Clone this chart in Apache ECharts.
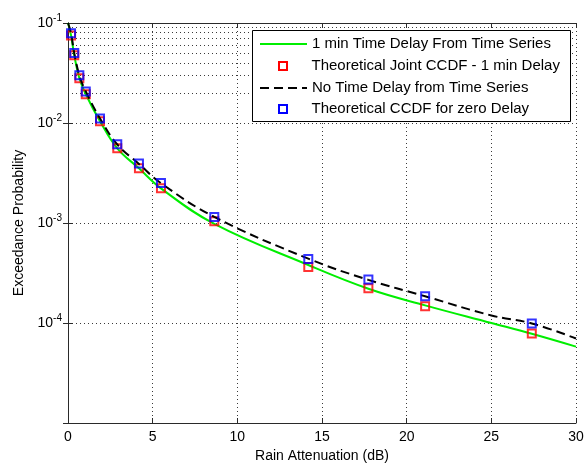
<!DOCTYPE html>
<html>
<head>
<meta charset="utf-8">
<script src="https://cdn.jsdelivr.net/npm/echarts@6/dist/echarts.min.js"></script>
<style>html,body{margin:0;padding:0;background:#fff;}#c{width:584px;height:464px;}</style>
</head>
<body>
<div id="c"></div>
<script>
// ---- data ----
const seriesNames = [
  '1 min Time Delay From Time Series',
  'Theoretical Joint CCDF - 1 min Delay',
  'No Time Delay from Time Series',
  'Theoretical CCDF for zero Delay'
];
const markerX = [0.18, 0.37, 0.67, 1.05, 1.89, 2.91, 4.19, 5.49, 8.64, 14.19, 17.74, 21.09, 27.39];
const redY    = [0.075, 0.0475, 0.028, 0.0194, 0.0104, 0.00558, 0.00352, 0.00222, 0.00104, 3.63e-4, 2.22e-4, 1.47e-4, 7.83e-5];
const blueY   = [0.079, 0.050, 0.030, 0.0207, 0.0111, 0.00612, 0.00393, 0.00251, 0.00115, 4.37e-4, 2.72e-4, 1.85e-4, 9.86e-5];
const lineX   = [0, 0.18, 0.37, 0.67, 1.05, 1.89, 2.91, 4.19, 5.49, 8.64, 14.19, 17.74, 21.09, 25, 27.39, 30];
const greenY  = [0.1, 0.0753, 0.0475, 0.028, 0.0194, 0.0104, 0.00558, 0.00352, 0.00222, 9.8e-4, 3.8e-4, 2.2e-4, 1.5e-4, 1.0e-4, 7.8e-5, 5.8e-5];
const blackY  = [0.1, 0.079, 0.050, 0.030, 0.0207, 0.0111, 0.0061, 0.0039, 0.0025, 0.00115, 4.4e-4, 2.7e-4, 1.85e-4, 1.19e-4, 9.9e-5, 7.0e-5];
const xTicks = [0, 5, 10, 15, 20, 25, 30];
const decadeExps = [-5, -4, -3, -2, -1];
const minorMult = [2, 3, 4, 5, 6, 7, 8, 9];

const pairs = (xs, ys) => xs.map((x, i) => [x, ys[i]]);
const minorVals = [];
decadeExps.slice(0, -1).forEach(e => minorMult.forEach(m => minorVals.push(m * Math.pow(10, e))));

const FONT = 'Liberation Sans, Arial, sans-serif';
const dotted = { type: [1, 3], color: '#3a3a3a', width: 1 };
const axisCol = '#2a2a2a';
const sq = 'path://M0,0L10,0L10,10L0,10Z';

function legendRow(name, top, extra) {
  return Object.assign({
    left: 259, top: top, padding: 0, itemWidth: 47, itemHeight: 14, z: 20,
    selectedMode: false,
    itemStyle: { opacity: 0 },
    textStyle: { fontSize: 15, color: '#000', fontFamily: FONT, lineHeight: 16 },
    data: [name]
  }, extra || {});
}
function squareRow(name, top, col) {
  return legendRow(name, top, {
    left: 278, itemHeight: 8,
    itemStyle: {},
    data: [{ name: name, icon: sq, itemStyle: { color: 'rgba(0,0,0,0)', borderColor: col, borderWidth: 2, opacity: 1 } }]
  });
}

const chart = echarts.init(document.getElementById('c'), null, { renderer: 'canvas' });
chart.setOption({
  animation: false,
  backgroundColor: '#fff',
  grid: { left: 68, right: 8, top: 23, bottom: 41, show: false, containLabel: false, outerBoundsMode: 'none' },
  xAxis: [{
    type: 'value', min: 0, max: 30, interval: 5,
    name: 'Rain Attenuation (dB)', nameLocation: 'middle', nameGap: 26,
    nameTextStyle: { fontSize: 14, color: '#000', fontFamily: FONT },
    axisLine: { lineStyle: { color: axisCol, width: 1 } },
    axisTick: { inside: true, length: 5, lineStyle: { color: axisCol } },
    axisLabel: { fontSize: 14, color: '#000', fontFamily: FONT, margin: 7 },
    splitLine: { show: true, lineStyle: dotted }
  }, {
    type: 'value', min: 0, max: 30, interval: 5, position: 'top',
    axisLine: { show: true, onZero: false, lineStyle: { color: axisCol, width: 1 } },
    axisTick: { inside: true, length: 5, lineStyle: { color: axisCol } },
    axisLabel: { show: false }, splitLine: { show: false }
  }],
  yAxis: [{
    type: 'log', logBase: 10, min: 1e-5, max: 0.1,
    name: 'Exceedance Probability', nameLocation: 'middle', nameGap: 42,
    nameTextStyle: { fontSize: 14, color: '#000', fontFamily: FONT },
    axisLine: { show: true, lineStyle: { color: axisCol, width: 1 } },
    axisTick: { show: true, inside: true, length: 5, lineStyle: { color: axisCol } },
    axisLabel: {
      margin: 6, fontFamily: FONT, color: '#000',
      formatter: function (v) {
        const e = Math.round(Math.log10(v));
        if (e === -5) return '';
        return '{b|10}{s|' + e + '}';
      },
      rich: {
        b: { fontSize: 14, color: '#000', fontFamily: FONT },
        s: { fontSize: 10, color: '#000', fontFamily: FONT, padding: [0, 0, 9, 0] }
      }
    },
    splitLine: { show: true, lineStyle: dotted }
  }, {
    type: 'log', logBase: 10, min: 1e-5, max: 0.1, position: 'right',
    axisLine: { show: true, lineStyle: { color: axisCol, width: 1 } },
    axisTick: { show: true, inside: true, length: 5, lineStyle: { color: axisCol } },
    axisLabel: { show: false }, splitLine: { show: false }
  }],
  legend: [
    legendRow(seriesNames[0], 36),
    squareRow(seriesNames[1], 58, '#ff0000'),
    legendRow(seriesNames[2], 80),
    squareRow(seriesNames[3], 101, '#0000ff')
  ],
  graphic: [{
    type: 'rect', z: 10, silent: true,
    shape: { x: 252.5, y: 30.5, width: 318, height: 91 },
    style: { fill: '#fff', stroke: '#000', lineWidth: 1 }
  }],
  series: [
    {
      name: 'minor-grid', type: 'line', data: [], z: 0, silent: true,
      markLine: {
        silent: true, z: 0, symbol: ['none', 'none'], label: { show: false },
        lineStyle: dotted, animation: false,
        data: minorVals.map(v => ({ yAxis: v }))
      }
    },
    {
      name: seriesNames[0], type: 'line', data: pairs(lineX, greenY), z: 2,
      symbol: 'none', smooth: 0.4,
      lineStyle: { color: '#00ee00', width: 2 }, itemStyle: { color: '#00ee00' }
    },
    {
      name: seriesNames[1], type: 'scatter', data: pairs(markerX, redY), z: 3,
      symbol: 'rect', symbolSize: 8,
      itemStyle: { color: 'rgba(0,0,0,0)', borderColor: '#ff0000', borderWidth: 2 }
    },
    {
      name: seriesNames[2], type: 'line', data: pairs(lineX, blackY), z: 4,
      symbol: 'none', smooth: 0.4,
      lineStyle: { color: '#000', width: 2, type: [9, 5] }, itemStyle: { color: '#000' }
    },
    {
      name: seriesNames[3], type: 'scatter', data: pairs(markerX, blueY), z: 5,
      symbol: 'rect', symbolSize: 8,
      itemStyle: { color: 'rgba(0,0,0,0)', borderColor: '#0000ff', borderWidth: 2 }
    }
  ]
});
</script>
</body>
</html>
